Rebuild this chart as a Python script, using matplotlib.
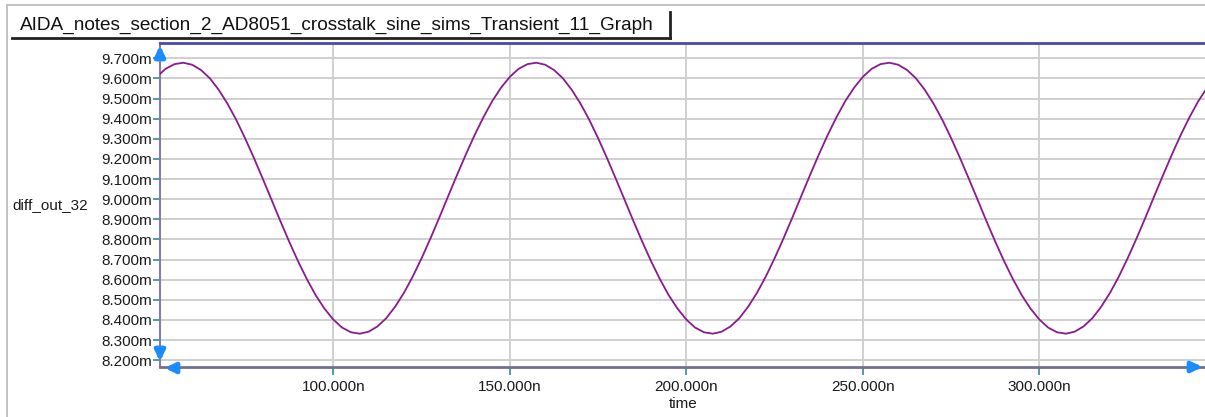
import numpy as np
import matplotlib
matplotlib.use("Agg")
import matplotlib.pyplot as plt
from matplotlib.ticker import FixedLocator, FuncFormatter

plt.rcParams['font.family'] = ['Liberation Sans', 'DejaVu Sans']

# Transient output: diff_out_32 in mV, sampled every 2.5 ns from 50 ns
t_start_ns = 50.0
t_step_ns = 2.5
diff_out_32_mV = [
    9.608, 9.648, 9.671, 9.678, 9.668, 9.642, 9.601, 9.544, 9.475, 9.394,
    9.303, 9.205, 9.102, 8.997, 8.891, 8.789, 8.692, 8.603, 8.523, 8.456,
    8.402, 8.362, 8.339, 8.332, 8.342, 8.368, 8.409, 8.466, 8.535, 8.616,
    8.707, 8.805, 8.908, 9.014, 9.119, 9.221, 9.318, 9.407, 9.487, 9.554,
    9.608, 9.648, 9.671, 9.678, 9.668, 9.642, 9.601, 9.544, 9.475, 9.394,
    9.303, 9.205, 9.102, 8.997, 8.891, 8.789, 8.692, 8.603, 8.523, 8.456,
    8.402, 8.362, 8.339, 8.332, 8.342, 8.368, 8.409, 8.466, 8.535, 8.616,
    8.707, 8.805, 8.908, 9.014, 9.119, 9.221, 9.318, 9.407, 9.487, 9.554,
    9.608, 9.648, 9.671, 9.678, 9.668, 9.642, 9.601, 9.544, 9.475, 9.394,
    9.303, 9.205, 9.102, 8.997, 8.891, 8.789, 8.692, 8.603, 8.523, 8.456,
    8.402, 8.362, 8.339, 8.332, 8.342, 8.368, 8.409, 8.466, 8.535, 8.616,
    8.707, 8.805, 8.908, 9.014, 9.119, 9.221, 9.318, 9.407, 9.487, 9.554,
]
time_ns = t_start_ns + t_step_ns * np.arange(len(diff_out_32_mV))

y_ticks_mV = [8.2, 8.3, 8.4, 8.5, 8.6, 8.7, 8.8, 8.9, 9.0, 9.1, 9.2, 9.3, 9.4, 9.5, 9.6, 9.7]
x_ticks_ns = [100, 150, 200, 250, 300]

title_text = "AIDA_notes_section_2_AD8051_crosstalk_sine_sims_Transient_11_Graph"
y_name = "diff_out_32"
x_name = "time"

W, H = 1205, 417
fig = plt.figure(figsize=(W / 100, H / 100), dpi=100)
fig.patch.set_facecolor('white')

# plot area in pixels: left 160, right 1205, top 43, bottom 367
ax = fig.add_axes([160 / W, (H - 367.3) / H, (1205 - 160) / W, (367.3 - 43.3) / H])
ax.set_xlim(50.9, 346.9)
ax.set_ylim(8.165, 9.7745)

ax.plot(time_ns, diff_out_32_mV, color='#8a1a8f', lw=1.3, zorder=3)

ax.yaxis.set_major_locator(FixedLocator(y_ticks_mV))
ax.xaxis.set_major_locator(FixedLocator(x_ticks_ns))
ax.yaxis.set_major_formatter(FuncFormatter(lambda v, p: f"{v:.3f}m"))
ax.xaxis.set_major_formatter(FuncFormatter(lambda v, p: f"{v:.3f}n"))
ax.grid(True, color='#cfcfcf', lw=1.4, zorder=0)
ax.set_axisbelow(True)

ax.tick_params(axis='y', length=5, width=1.2, color='#2a9090', pad=1,
               labelsize=11, labelcolor='#1a1a1a')
ax.tick_params(axis='x', length=6, width=1.2, color='#2a9090', pad=3,
               labelsize=11, labelcolor='#1a1a1a')

ax.spines['right'].set_visible(False)
ax.spines['left'].set_color('#8080a0')
ax.spines['left'].set_linewidth(1.5)
ax.spines['bottom'].set_color('#707090')
ax.spines['bottom'].set_linewidth(2)
ax.spines['top'].set_color('#4a4aa8')
ax.spines['top'].set_linewidth(2)

# axis labels
fig.text(12 / W, (H - 205) / H, y_name, fontsize=11, color='#1a1a1a',
         ha='left', va='center')
fig.text(683 / W, (H - 404) / H, x_name, fontsize=11, color='#1a1a1a',
         ha='center', va='center')

# outer frame
fig.add_artist(plt.Line2D([7 / W, 7 / W], [0, (H - 5) / H], color='#bdbdbd', lw=1.3))
fig.add_artist(plt.Line2D([7 / W, 1], [(H - 5) / H, (H - 5) / H], color='#bdbdbd', lw=1.3))

# title tab
fig.text(20 / W, (H - 25) / H, title_text, fontsize=13.7, color='#111111',
         ha='left', va='center')
fig.add_artist(plt.Line2D([12 / W, 670 / W], [(H - 38) / H, (H - 38) / H], color='#222222', lw=2))
fig.add_artist(plt.Line2D([670 / W, 670 / W], [(H - 38) / H, (H - 12) / H], color='#222222', lw=2))

# axis arrows
arrow_blue = '#1a8cff'
def arrow(tail, tip):
    fig.add_artist(matplotlib.patches.FancyArrowPatch(
        (tail[0], H - tail[1]), (tip[0], H - tip[1]), transform=None,
        arrowstyle='-|>', mutation_scale=14, color=arrow_blue, lw=3.5, zorder=10))

arrow((160, 58), (160, 43))
arrow((160, 349), (160, 364))
arrow((179, 368), (162, 368))
arrow((1190, 367), (1205, 367))

fig.savefig('out.png', dpi=100)
